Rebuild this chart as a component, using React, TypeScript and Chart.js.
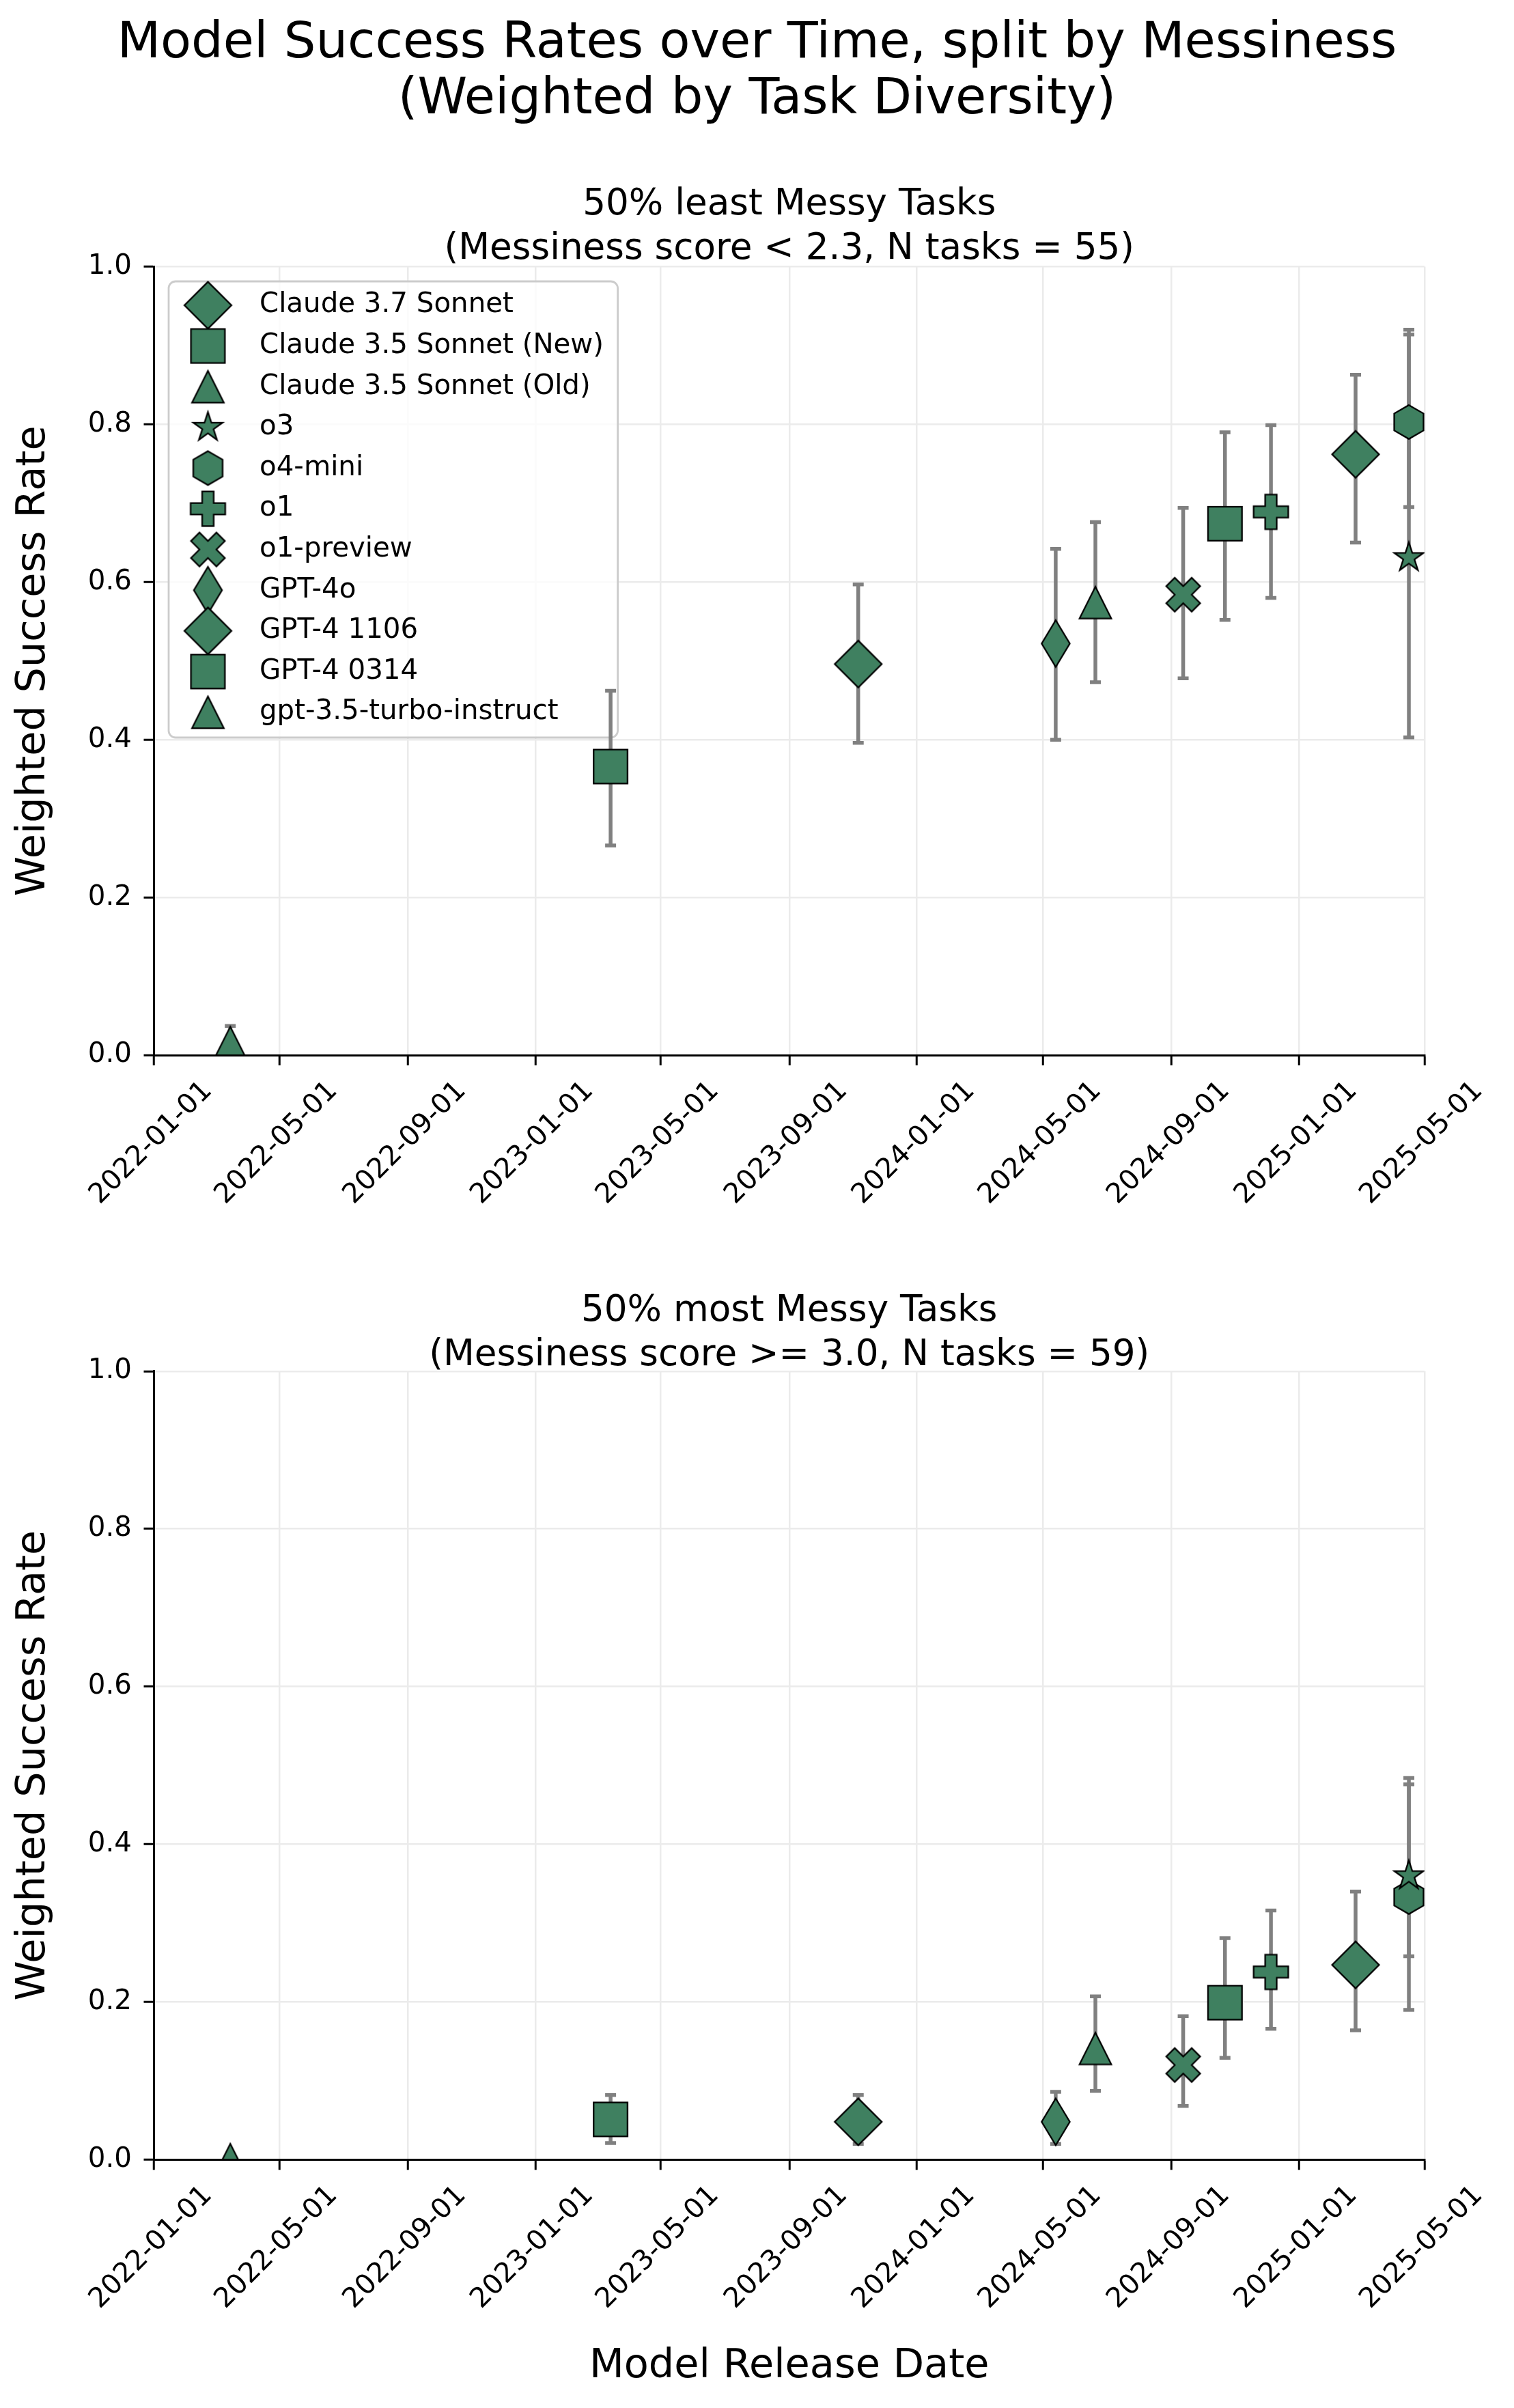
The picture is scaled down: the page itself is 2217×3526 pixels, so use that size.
import React, { useEffect, useRef } from 'react';
import { Chart, registerables } from 'chart.js';

Chart.register(...registerables);

// ---------------- data ----------------
const MODELS = [
  'Claude 3.7 Sonnet',
  'Claude 3.5 Sonnet (New)',
  'Claude 3.5 Sonnet (Old)',
  'o3',
  'o4-mini',
  'o1',
  'o1-preview',
  'GPT-4o',
  'GPT-4 1106',
  'GPT-4 0314',
  'gpt-3.5-turbo-instruct',
];
const MARKERS = ['D', 's', '^', '*', 'h', 'P', 'X', 'd', 'D', 's', '^'];
const RELEASE_DATES = [
  '2025-02-24', '2024-10-22', '2024-06-20', '2025-04-16', '2025-04-16', '2024-12-05',
  '2024-09-12', '2024-05-13', '2023-11-06', '2023-03-14', '2022-03-15',
];

const LEAST_RATE = [0.762, 0.674, 0.574, 0.631, 0.803, 0.689, 0.584, 0.522, 0.496, 0.366, 0.016];
const LEAST_LOW = [0.650, 0.552, 0.473, 0.403, 0.695, 0.580, 0.478, 0.400, 0.396, 0.266, 0.000];
const LEAST_HIGH = [0.863, 0.790, 0.676, 0.920, 0.914, 0.799, 0.694, 0.642, 0.597, 0.462, 0.037];

const MOST_RATE = [0.247, 0.199, 0.141, 0.360, 0.333, 0.238, 0.120, 0.048, 0.048, 0.051, 0.000];
const MOST_LOW = [0.164, 0.129, 0.087, 0.190, 0.258, 0.166, 0.068, 0.020, 0.020, 0.021, 0.000];
const MOST_HIGH = [0.340, 0.281, 0.207, 0.484, 0.476, 0.316, 0.182, 0.086, 0.082, 0.082, 0.000];

const X_TICK_LABELS = [
  '2022-01-01', '2022-05-01', '2022-09-01', '2023-01-01', '2023-05-01', '2023-09-01',
  '2024-01-01', '2024-05-01', '2024-09-01', '2025-01-01', '2025-05-01',
];

const MAIN_TITLE = ['Model Success Rates over Time, split by Messiness', '(Weighted by Task Diversity)'];
const PANEL_TITLES = [
  ['50% least Messy Tasks', '(Messiness score < 2.3, N tasks = 55)'],
  ['50% most Messy Tasks', '(Messiness score >= 3.0, N tasks = 59)'],
];
const Y_TITLE = 'Weighted Success Rate';
const X_TITLE = 'Model Release Date';

// ---------------- style ----------------
const FONT = '"DejaVu Sans", sans-serif';
const FILL = '#3f8060';
const GRID = '#ebebeb';
const ERR = '#808080';
const PAGE_W = 2217;
const PAGE_H = 3526;
const AREA_LEFT = 225.5;
const AREA_RIGHT = 2086;
const PANELS = [
  { canvasTop: 0, canvasH: 1800, areaTop: 390.5, areaBottom: 1545, titleTop: 264 },
  { canvasTop: 1800, canvasH: 1726, areaTop: 207.8, areaBottom: 1362.3, titleTop: 1883.5 },
];

const X_TICK_VALUES = X_TICK_LABELS.map((s) => Date.parse(s));
const X_MIN = X_TICK_VALUES[0];
const X_MAX = X_TICK_VALUES[X_TICK_VALUES.length - 1];

function measure(text: string, size: number) {
  const c = document.createElement('canvas').getContext('2d') as CanvasRenderingContext2D;
  c.font = `${size}px ${FONT}`;
  return c.measureText(text).width;
}
function fitSize(text: string, target: number) {
  return (100 * target) / measure(text, 100);
}

function makeMarker(kind: string): HTMLCanvasElement {
  const lw = 2.3;
  const S = 84;
  const cv = document.createElement('canvas');
  cv.width = S;
  cv.height = S;
  const ctx = cv.getContext('2d') as CanvasRenderingContext2D;
  ctx.translate(S / 2, S / 2);
  let pts: number[][] = [];
  if (kind === 'D') {
    const h = 34.4;
    pts = [[0, -h], [h, 0], [0, h], [-h, 0]];
  } else if (kind === 'd') {
    const h = 34.25, w = 20.6;
    pts = [[0, -h], [w, 0], [0, h], [-w, 0]];
  } else if (kind === 's') {
    const h = 24.85;
    pts = [[-h, -h], [h, -h], [h, h], [-h, h]];
  } else if (kind === '^') {
    const h = 23.3;
    pts = [[0, -h], [h, h], [-h, h]];
  } else if (kind === '*') {
    const r = 22.5, ri = r * 0.381966;
    for (let k = 0; k < 10; k++) {
      const a = -Math.PI / 2 + (k * Math.PI) / 5;
      const rr = k % 2 === 0 ? r : ri;
      pts.push([rr * Math.cos(a), rr * Math.sin(a)]);
    }
  } else if (kind === 'h') {
    const R = 24.8;
    for (let k = 0; k < 6; k++) {
      const a = -Math.PI / 2 + (k * Math.PI) / 3;
      pts.push([R * Math.cos(a), R * Math.sin(a)]);
    }
  } else if (kind === 'P') {
    const a = 25.35, b = a / 3;
    pts = [[-b, -a], [b, -a], [b, -b], [a, -b], [a, b], [b, b], [b, a], [-b, a], [-b, b], [-a, b], [-a, -b], [-b, -b]];
  } else if (kind === 'X') {
    const s = 49.7;
    const unit = [[0.25, 0], [0.5, 0.25], [0.75, 0], [1, 0.25], [0.75, 0.5], [1, 0.75], [0.75, 1], [0.5, 0.75], [0.25, 1], [0, 0.75], [0.25, 0.5], [0, 0.25]];
    pts = unit.map(([u, v]) => [(u - 0.5) * s, (v - 0.5) * s]);
  }
  ctx.beginPath();
  pts.forEach(([x, y], i) => (i === 0 ? ctx.moveTo(x, y) : ctx.lineTo(x, y)));
  ctx.closePath();
  ctx.fillStyle = FILL;
  ctx.fill();
  ctx.lineJoin = 'miter';
  ctx.miterLimit = 10;
  ctx.lineWidth = lw;
  ctx.strokeStyle = '#000';
  ctx.stroke();
  return cv;
}

function roundRectPath(ctx: CanvasRenderingContext2D, x: number, y: number, w: number, h: number, r: number) {
  ctx.beginPath();
  ctx.moveTo(x + r, y);
  ctx.lineTo(x + w - r, y);
  ctx.arcTo(x + w, y, x + w, y + r, r);
  ctx.lineTo(x + w, y + h - r);
  ctx.arcTo(x + w, y + h, x + w - r, y + h, r);
  ctx.lineTo(x + r, y + h);
  ctx.arcTo(x, y + h, x, y + h - r, r);
  ctx.lineTo(x, y + r);
  ctx.arcTo(x, y, x + r, y, r);
  ctx.closePath();
}

function legendPlugin(size: number) {
  return {
    id: 'boxLegend',
    beforeDatasetsDraw(chart: any) {
      const { ctx, chartArea } = chart;
      const datasets = chart.data.datasets;
      const left = chartArea.left + 21.5;
      const top = chartArea.top + 21.5;
      const firstRow = top + 35;
      const pitch = 59.6;
      const markerX = left + 57.5;
      const textX = left + 133;
      ctx.save();
      ctx.font = `${size}px ${FONT}`;
      let maxW = 0;
      datasets.forEach((ds: any) => {
        maxW = Math.max(maxW, ctx.measureText(ds.label).width);
      });
      const right = textX + maxW + 20.5;
      const bottom = firstRow + pitch * (datasets.length - 1) + 37;
      roundRectPath(ctx, left, top, right - left, bottom - top, 10);
      ctx.fillStyle = 'rgba(255,255,255,0.8)';
      ctx.fill();
      ctx.lineWidth = 2.8;
      ctx.strokeStyle = '#cccccc';
      ctx.stroke();
      ctx.fillStyle = '#000';
      ctx.textBaseline = 'middle';
      ctx.textAlign = 'left';
      datasets.forEach((ds: any, i: number) => {
        const y = firstRow + pitch * i;
        const img = ds.pointStyle as HTMLCanvasElement;
        ctx.drawImage(img, markerX - img.width / 2, y - img.height / 2);
        ctx.fillText(ds.label, textX, y);
      });
      ctx.restore();
    },
  };
}

function errorBarPlugin(lows: number[], highs: number[]) {
  return {
    id: 'errorBars',
    beforeDatasetsDraw(chart: any) {
      const { ctx, chartArea, scales } = chart;
      ctx.save();
      ctx.beginPath();
      ctx.rect(chartArea.left, chartArea.top, chartArea.right - chartArea.left, chartArea.bottom - chartArea.top);
      ctx.clip();
      ctx.strokeStyle = ERR;
      ctx.lineCap = 'butt';
      ctx.lineWidth = 5.5;
      chart.data.datasets.forEach((ds: any, i: number) => {
        if (highs[i] - lows[i] < 1e-9) return;
        const x = scales.x.getPixelForValue(ds.data[0].x);
        const y0 = scales.y.getPixelForValue(lows[i]);
        const y1 = scales.y.getPixelForValue(highs[i]);
        ctx.beginPath();
        ctx.moveTo(x, y0);
        ctx.lineTo(x, y1);
        ctx.stroke();
        ctx.beginPath();
        ctx.moveTo(x - 8, y0);
        ctx.lineTo(x + 8, y0);
        ctx.moveTo(x - 8, y1);
        ctx.lineTo(x + 8, y1);
        ctx.stroke();
      });
      ctx.restore();
    },
  };
}

function buildConfig(
  rates: number[],
  lows: number[],
  highs: number[],
  images: HTMLCanvasElement[],
  panel: { canvasH: number; areaTop: number; areaBottom: number },
  sizes: { label: number; axis: number },
  showLegend: boolean,
  showXTitle: boolean,
) {
  const tickW = measure(X_TICK_LABELS[0], sizes.label);
  const lh = sizes.label * 1.2;
  const labelOffset = (0.7071 * tickW) / 2 - 4;
  const xPad = 129 - (0.7071 * (tickW + lh)) / 2 - 15;
  const axisLh = sizes.axis * 1.2;
  const tickFont = { family: FONT, size: sizes.label };
  const axisFont = { family: FONT, size: sizes.axis };
  const xHeight = panel.canvasH - panel.areaBottom;
  const plugins: any[] = [];
  if (showLegend) plugins.push(legendPlugin(sizes.label));
  plugins.push(errorBarPlugin(lows, highs));
  return {
    type: 'scatter' as const,
    data: {
      datasets: MODELS.map((name, i) => ({
        label: name,
        data: [{ x: Date.parse(RELEASE_DATES[i]), y: rates[i] }],
        pointStyle: images[i],
        pointRadius: 20,
        pointHoverRadius: 20,
        clip: 0,
      })),
    },
    options: {
      animation: false,
      responsive: false,
      maintainAspectRatio: false,
      devicePixelRatio: 1,
      events: [],
      layout: { padding: { top: panel.areaTop, left: 0, right: PAGE_W - AREA_RIGHT, bottom: 0 } },
      plugins: { legend: { display: false }, tooltip: { enabled: false }, title: { display: false } },
      scales: {
        x: {
          type: 'linear',
          min: X_MIN,
          max: X_MAX,
          bounds: 'data',
          afterBuildTicks: (scale: any) => {
            scale.ticks = X_TICK_VALUES.map((v) => ({ value: v }));
          },
          afterFit: (scale: any) => {
            scale.height = xHeight;
          },
          ticks: {
            autoSkip: false,
            minRotation: 45,
            maxRotation: 45,
            font: tickFont,
            color: '#000',
            padding: xPad,
            labelOffset,
            callback: (v: any) => {
              const i = X_TICK_VALUES.indexOf(Number(v));
              return i >= 0 ? X_TICK_LABELS[i] : '';
            },
          },
          grid: { color: GRID, lineWidth: 2.5, tickColor: '#000', tickWidth: 3, tickLength: 15 },
          border: { display: true, color: '#000', width: 3, z: 1 },
          title: {
            display: showXTitle,
            text: X_TITLE,
            color: '#000',
            font: axisFont,
            padding: { top: 0, bottom: Math.max(0, 60 - axisLh / 2) },
          },
        },
        y: {
          type: 'linear',
          min: 0,
          max: 1,
          afterFit: (scale: any) => {
            scale.width = AREA_LEFT;
          },
          ticks: {
            stepSize: 0.2,
            font: tickFont,
            color: '#000',
            padding: 17.5,
            callback: (v: any) => Number(v).toFixed(1),
          },
          grid: { color: GRID, lineWidth: 2.5, tickColor: '#000', tickWidth: 3, tickLength: 15 },
          border: { display: true, color: '#000', width: 3, z: 1 },
          title: {
            display: true,
            text: Y_TITLE,
            color: '#000',
            font: axisFont,
            padding: { top: Math.max(0, 50 - axisLh / 2), bottom: 0 },
          },
        },
      },
    },
    plugins,
  };
}

export default function App() {
  const topRef = useRef<HTMLCanvasElement>(null);
  const botRef = useRef<HTMLCanvasElement>(null);

  const titleSize = fitSize(MAIN_TITLE[0], 1874);
  const panelSize = fitSize(PANEL_TITLES[0][1], 1011);
  const labelSize = fitSize(MODELS[0], 372);
  const axisSize = fitSize(Y_TITLE, 689);

  useEffect(() => {
    Chart.defaults.font.family = FONT;
    const images = MARKERS.map(makeMarker);
    const sizes = { label: labelSize, axis: axisSize };
    const c1 = new Chart(
      topRef.current as HTMLCanvasElement,
      buildConfig(LEAST_RATE, LEAST_LOW, LEAST_HIGH, images, PANELS[0], sizes, true, false) as any,
    );
    const c2 = new Chart(
      botRef.current as HTMLCanvasElement,
      buildConfig(MOST_RATE, MOST_LOW, MOST_HIGH, images, PANELS[1], sizes, false, true) as any,
    );
    return () => {
      c1.destroy();
      c2.destroy();
    };
  }, []);

  const textStyle: React.CSSProperties = {
    position: 'absolute',
    whiteSpace: 'pre',
    textAlign: 'center',
    color: '#000',
    fontFamily: FONT,
  };

  return (
    <div style={{ position: 'absolute', left: 0, top: 0, width: PAGE_W, height: PAGE_H, background: '#fff', overflow: 'hidden' }}>
      <canvas
        ref={topRef}
        width={PAGE_W}
        height={PANELS[0].canvasH}
        style={{ position: 'absolute', left: 0, top: PANELS[0].canvasTop, width: PAGE_W, height: PANELS[0].canvasH }}
      />
      <canvas
        ref={botRef}
        width={PAGE_W}
        height={PANELS[1].canvasH}
        style={{ position: 'absolute', left: 0, top: PANELS[1].canvasTop, width: PAGE_W, height: PANELS[1].canvasH }}
      />
      <div style={{ ...textStyle, left: 0, width: PAGE_W, top: 18, fontSize: titleSize, lineHeight: '82px' }}>
        {MAIN_TITLE.join('\n')}
      </div>
      {PANEL_TITLES.map((lines, i) => (
        <div
          key={i}
          style={{
            ...textStyle,
            left: AREA_LEFT,
            width: AREA_RIGHT - AREA_LEFT,
            top: PANELS[i].titleTop,
            fontSize: panelSize,
            lineHeight: '65px',
          }}
        >
          {lines.join('\n')}
        </div>
      ))}
    </div>
  );
}
